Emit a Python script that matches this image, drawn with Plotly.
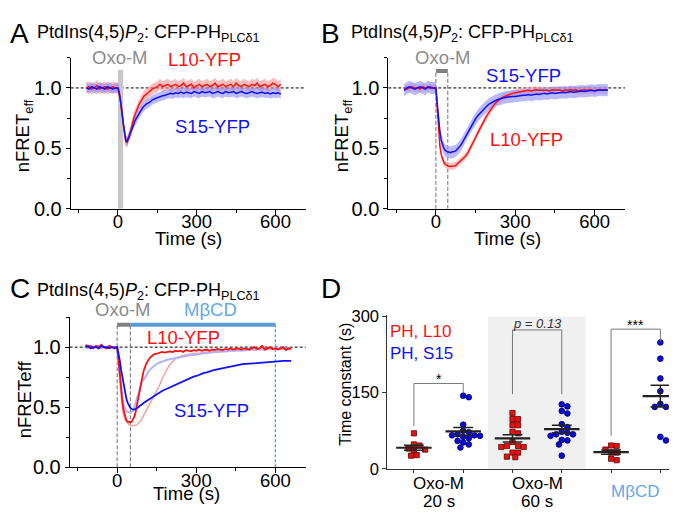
import numpy as np
import plotly.graph_objects as go

FONT = "Arial, Liberation Sans, sans-serif"
RED = "#ff1010"
BLUE = "#1010ff"
GRAY_TXT = "#8c8c8c"
MBCD_BAR = "#5b9bd5"
MBCD_TXT = "#62a8ea"

# ---------------- Panel A (Oxo-M 20 s) ----------------
t_A = list(range(-120, 0, 10)) + list(range(0, 100, 5)) + list(range(100, 630, 10))
A_L10 = [1.00, 1.01, 0.99, 1.00, 1.02, 0.99, 1.00, 1.01, 0.99, 1.00, 1.01, 1.00,
         1.00, 0.95, 0.89, 0.79, 0.70, 0.61, 0.555, 0.55, 0.58, 0.62, 0.66, 0.71, 0.75, 0.78, 0.81, 0.84, 0.86, 0.88, 0.90, 0.92,
         0.935, 0.95, 0.97, 0.99, 1.00, 1.01, 1.03, 1.01, 1.02, 1.03,
         1.01, 1.02, 1.03, 1.01, 1.02, 1.04, 1.01, 1.02, 1.03, 1.00,
         1.02, 1.03, 1.01, 1.02, 1.03, 1.01, 1.02, 1.04, 1.01, 1.02,
         1.03, 1.01, 1.02, 1.03, 1.01, 1.04, 1.02, 1.01, 1.03, 1.02,
         1.01, 1.03, 1.02, 1.04, 1.01, 1.02, 1.03, 1.01, 1.02, 1.04,
         1.03, 1.01, 1.03]
A_S15 = [1.00, 0.99, 1.01, 1.00, 0.99, 1.01, 1.00, 0.99, 1.01, 1.00, 0.99, 1.00,
         1.00, 0.96, 0.90, 0.81, 0.71, 0.62, 0.565, 0.56, 0.58, 0.61, 0.64, 0.68, 0.70, 0.73, 0.75, 0.77, 0.79, 0.81, 0.82, 0.84,
         0.85, 0.87, 0.88, 0.90, 0.91, 0.92, 0.93, 0.935, 0.94, 0.95,
         0.955, 0.95, 0.96, 0.955, 0.965, 0.955, 0.965, 0.96, 0.955, 0.97,
         0.96, 0.955, 0.97, 0.96, 0.965, 0.97, 0.955, 0.96, 0.97, 0.96,
         0.955, 0.97, 0.96, 0.965, 0.97, 0.955, 0.96, 0.97, 0.96, 0.955,
         0.96, 0.97, 0.96, 0.955, 0.96, 0.965, 0.955, 0.96, 0.95, 0.96,
         0.955, 0.96, 0.95]
A_L10_sem = 0.045
A_S15_sem = 0.04

# ---------------- Panel B (Oxo-M 45 s) ----------------
t_B = list(range(-120, 0, 10)) + list(range(0, 100, 5)) + list(range(100, 660, 10))
B_L10 = [1.00, 0.99, 1.00, 1.01, 1.00, 1.00, 0.99, 1.01, 1.00, 1.00, 1.01, 1.00,
         1.00, 0.82, 0.64, 0.52, 0.45, 0.41, 0.385, 0.37, 0.36, 0.355, 0.35, 0.35, 0.35, 0.352, 0.355, 0.36, 0.37, 0.375, 0.385, 0.395,
         0.41, 0.43, 0.46, 0.50, 0.54, 0.59, 0.635, 0.68, 0.72, 0.76,
         0.795, 0.83, 0.86, 0.885, 0.905, 0.92, 0.93, 0.94, 0.95, 0.955,
         0.96, 0.965, 0.97, 0.97, 0.975, 0.98, 0.975, 0.98, 0.985, 0.98,
         0.98, 0.985, 0.98, 0.975, 0.985, 0.98, 0.985, 0.98, 0.975, 0.985,
         0.98, 0.985, 0.98, 0.985, 0.975, 0.98, 0.985, 0.98, 0.985, 0.98,
         0.975, 0.985, 0.98, 0.985, 0.98, 0.985]
B_S15 = [0.98, 1.00, 1.01, 1.00, 0.99, 1.00, 1.01, 1.00, 0.99, 1.01, 1.00, 1.00,
         1.00, 0.87, 0.74, 0.64, 0.57, 0.53, 0.50, 0.485, 0.475, 0.47, 0.47, 0.465, 0.47, 0.47, 0.475, 0.48, 0.49, 0.50, 0.515, 0.53,
         0.55, 0.59, 0.635, 0.675, 0.715, 0.745, 0.775, 0.80, 0.825, 0.845,
         0.865, 0.88, 0.89, 0.90, 0.91, 0.915, 0.92, 0.925, 0.925, 0.93,
         0.93, 0.935, 0.935, 0.94, 0.94, 0.945, 0.94, 0.945, 0.95, 0.945,
         0.95, 0.955, 0.95, 0.955, 0.96, 0.955, 0.96, 0.96, 0.965, 0.96,
         0.965, 0.97, 0.965, 0.97, 0.97, 0.975, 0.97, 0.975, 0.975, 0.98,
         0.975, 0.98, 0.985, 0.98, 0.985, 0.98]
B_L10_sem = 0.03
B_S15_sem = 0.05

# ---------------- Panel C (Oxo-M + MbCD) ----------------
t_C = list(range(-120, 0, 10)) + list(range(0, 100, 5)) + list(range(100, 670, 10))
C_L10 = [1.02, 1.00, 1.01, 0.99, 1.01, 1.00, 1.02, 1.00, 0.99, 1.01, 1.00, 1.00,
         1.00, 0.90, 0.77, 0.64, 0.54, 0.47, 0.42, 0.39, 0.38, 0.375, 0.375, 0.38, 0.40, 0.42, 0.46, 0.51, 0.57, 0.63, 0.69, 0.75,
         0.80, 0.86, 0.90, 0.925, 0.94, 0.945, 0.95, 0.96, 0.955, 0.96,
         0.965, 0.96, 0.97, 0.965, 0.97, 0.96, 0.975, 0.97, 0.965, 0.975,
         0.97, 0.98, 0.97, 0.975, 0.98, 0.97, 0.98, 0.975, 0.985, 0.98,
         0.975, 0.985, 0.98, 0.99, 0.98, 0.985, 0.99, 0.98, 0.99, 0.985,
         0.98, 0.99, 1.00, 0.985, 0.99, 1.01, 0.98, 0.99, 1.00, 0.985,
         0.99, 0.98, 0.99, 1.00, 0.975, 0.99, 0.985]
C_S15 = [1.00, 1.01, 0.99, 1.00, 1.00, 0.99, 1.01, 1.00, 1.00, 0.99, 1.00, 0.99,
         1.00, 0.95, 0.89, 0.81, 0.74, 0.67, 0.61, 0.57, 0.535, 0.51, 0.495, 0.485, 0.48, 0.48, 0.485, 0.49, 0.50, 0.51, 0.515, 0.525,
         0.535, 0.55, 0.565, 0.58, 0.595, 0.61, 0.62, 0.635, 0.645, 0.655,
         0.665, 0.675, 0.69, 0.70, 0.71, 0.72, 0.73, 0.74, 0.745, 0.755,
         0.76, 0.77, 0.775, 0.785, 0.79, 0.80, 0.805, 0.81, 0.815, 0.82,
         0.825, 0.83, 0.835, 0.84, 0.845, 0.85, 0.85, 0.855, 0.86, 0.86,
         0.862, 0.865, 0.868, 0.87, 0.872, 0.875, 0.876, 0.878, 0.88, 0.88,
         0.882, 0.883, 0.884, 0.885, 0.885, 0.886, 0.886]
C_L10_ctrl = [1.00, 1.00, 0.99, 1.00, 1.00, 1.01, 1.00, 1.00, 0.99, 1.00, 1.00, 1.00,
              1.00, 0.85, 0.70, 0.57, 0.48, 0.43, 0.40, 0.38, 0.365, 0.355, 0.35, 0.345, 0.345, 0.345, 0.35, 0.355, 0.365, 0.375, 0.39, 0.41,
              0.43, 0.47, 0.51, 0.55, 0.59, 0.635, 0.68, 0.735, 0.78, 0.82,
              0.855, 0.88, 0.90, 0.915, 0.925, 0.93, 0.935, 0.94, 0.945, 0.945,
              0.95, 0.95, 0.955, 0.955, 0.96, 0.96, 0.96, 0.965, 0.965, 0.965,
              0.97, 0.965, 0.97, 0.97, 0.975, 0.97, 0.975, 0.975, 0.97, 0.975,
              0.975, 0.98, 0.975, 0.98, 0.98, 0.975, 0.98, 0.98, 0.985, 0.98,
              0.98, 0.985, 0.98, 0.985, 0.98, 0.985, 0.98]
C_S15_ctrl = [1.00, 0.99, 1.00, 1.00, 1.01, 1.00, 0.99, 1.00, 1.00, 1.01, 1.00, 1.00,
              1.00, 0.88, 0.76, 0.65, 0.57, 0.52, 0.49, 0.47, 0.46, 0.455, 0.455, 0.46, 0.47, 0.50, 0.54, 0.58, 0.62, 0.655, 0.685, 0.71,
              0.73, 0.765, 0.80, 0.825, 0.845, 0.86, 0.87, 0.88, 0.885, 0.895,
              0.90, 0.905, 0.91, 0.915, 0.92, 0.925, 0.93, 0.93, 0.935, 0.935,
              0.94, 0.945, 0.945, 0.95, 0.95, 0.955, 0.955, 0.96, 0.96, 0.96,
              0.965, 0.965, 0.965, 0.97, 0.97, 0.97, 0.975, 0.975, 0.975, 0.975,
              0.98, 0.98, 0.98, 0.98, 0.98, 0.985, 0.985, 0.985, 0.985, 0.985,
              0.99, 0.99, 0.985, 0.99, 0.99, 0.99, 0.99]

# ---------------- Panel D (time constants, s) ----------------
tau_L10_20s = [70, 46, 48, 38, 37, 40, 26, 27]
tau_S15_20s = [144, 141, 87, 75, 72, 68, 66, 66, 65, 63, 60, 55, 52, 48, 42]
tau_L10_60s = [110, 98, 98, 86, 86, 73, 70, 53, 45, 43, 43, 45, 32, 32, 23, 24]
tau_S15_60s = [127, 123, 114, 109, 88, 82, 73, 68, 65, 68, 71, 56, 57, 48, 26]
tau_L10_MbCD = [45, 46, 38, 32, 32, 17, 20]
tau_S15_MbCD = [249, 217, 178, 153, 128, 122, 122, 56, 63]
group_line1 = ["Oxo-M", "Oxo-M", "MβCD"]
group_line2 = ["20 s", "60 s", ""]

W, H = 677, 512


def px(x):
    return x / W


def py(y):
    return 1 - y / H


fig = go.Figure()


def band(t, y, sem, color, xa, ya):
    y = np.array(y)
    fig.add_trace(go.Scatter(x=list(t) + list(t)[::-1],
                             y=list(y + sem) + list(y - sem)[::-1],
                             fill="toself", fillcolor=color, line=dict(width=0),
                             mode="lines", hoverinfo="skip", xaxis=xa, yaxis=ya))


def line(t, y, color, xa, ya, w=1.5):
    fig.add_trace(go.Scatter(x=t, y=y, mode="lines", line=dict(color=color, width=w),
                             xaxis=xa, yaxis=ya))


# Panel A
band(t_A, A_L10, A_L10_sem, "rgba(245,140,140,0.55)", "x", "y")
band(t_A, A_S15, A_S15_sem, "rgba(130,130,250,0.55)", "x", "y")
line(t_A, A_L10, RED, "x", "y")
line(t_A, A_S15, BLUE, "x", "y")
# Panel B
band(t_B, B_L10, B_L10_sem, "rgba(245,160,160,0.6)", "x2", "y2")
band(t_B, B_S15, B_S15_sem, "rgba(140,140,250,0.6)", "x2", "y2")
line(t_B, B_L10, RED, "x2", "y2")
line(t_B, B_S15, BLUE, "x2", "y2")
# Panel C
line(t_C, C_L10_ctrl, "rgba(245,150,150,0.9)", "x3", "y3", 1.5)
line(t_C, C_S15_ctrl, "rgba(175,175,250,0.95)", "x3", "y3", 2)
line(t_C, C_L10, RED, "x3", "y3", 1.8)
line(t_C, C_S15, BLUE, "x3", "y3", 1.8)

# Panel D scatter
XU, YU, DIAM = 49.3, 158.3 / 300.0, 5.6


def swarm(vals):
    vals = np.array(vals, dtype=float)
    order = np.argsort(-vals)
    placed = []
    offs = np.zeros(len(vals))
    for i in order:
        yy = vals[i] * YU
        c = 0.0
        for k in range(80):
            c = ((k + 1) // 2) * (DIAM / 2) * (1 if k % 2 else -1)
            if all((c - a) ** 2 + (yy - b) ** 2 >= DIAM * DIAM * 0.95 for a, b in placed):
                break
        placed.append((c, yy))
        offs[i] = c / XU
    return offs


groups = [(tau_L10_20s, "L10"), (tau_S15_20s, "S15"), (tau_L10_60s, "L10"),
          (tau_S15_60s, "S15"), (tau_L10_MbCD, "L10"), (tau_S15_MbCD, "S15")]
mx, my = [], []
for gi, (vals, kind) in enumerate(groups):
    pos = gi + 1
    xs = pos + swarm(vals)
    if kind == "L10":
        mk = dict(symbol="square", size=5.2, color="#e81010", line=dict(color="#600000", width=0.8))
    else:
        mk = dict(symbol="circle", size=5.7, color="#0a0ae0", line=dict(color="#00005a", width=0.8))
    fig.add_trace(go.Scatter(x=xs, y=vals, mode="markers", marker=mk, xaxis="x4", yaxis="y4"))
    m = float(np.mean(vals))
    s = float(np.std(vals, ddof=1) / np.sqrt(len(vals)))
    mx += [pos - 0.36, pos + 0.36, None]
    my += [m, m, None]
    fig.add_trace(go.Scatter(x=[pos - 0.2, pos + 0.2, None, pos - 0.2, pos + 0.2, None, pos, pos],
                             y=[m + s, m + s, None, m - s, m - s, None, m - s, m + s],
                             mode="lines", line=dict(color="#222222", width=1.5),
                             xaxis="x4", yaxis="y4"))
fig.add_trace(go.Scatter(x=mx, y=my, mode="lines", line=dict(color="#222222", width=2.2),
                         xaxis="x4", yaxis="y4"))

# ---------------- axes ----------------
xtick_font = dict(family=FONT, size=18.5, color="black")
ytick_font = dict(family=FONT, size=20, color="black")


def time_x(dom, anchor):
    return dict(domain=dom, anchor=anchor, range=[-180, 715], tickvals=[0, 300, 600],
                ticks="outside", ticklen=5, tickwidth=1, tickcolor="black",
                showline=True, linecolor="black", linewidth=1, showgrid=False, zeroline=False,
                tickfont=xtick_font, ticklabelstandoff=-9,
                minor=dict(tickvals=[-150, 150, 450], ticks="outside", ticklen=3, tickcolor="black", showgrid=False))


def time_y(dom, anchor):
    return dict(domain=dom, anchor=anchor, range=[0, 1.25], tickvals=[0, 0.5, 1.0], tickformat=".1f",
                ticks="outside", ticklen=4, tickwidth=1, tickcolor="black",
                showline=True, linecolor="black", linewidth=1, showgrid=False, zeroline=False,
                tickfont=ytick_font,
                minor=dict(tickvals=[0.25, 0.75, 1.25], ticks="outside", ticklen=3, tickcolor="black", showgrid=False))


domA_x = [px(62.7), px(297.7)]
domA_y = [py(200.3), py(43.3)]
domB_x = [px(380.3), px(617)]
domC_x = [px(61.7), px(297.7)]
domC_y = [py(468.7), py(312.7)]
domD_x = [px(379.3), 1.0]
domD_y = [py(470.3), py(311.0)]

fig.update_layout(
    width=W, height=H, margin=dict(l=0, r=0, t=0, b=0),
    paper_bgcolor="white", plot_bgcolor="white", showlegend=False,
    font=dict(family=FONT, color="black"),
    xaxis=time_x(domA_x, "y"), yaxis=time_y(domA_y, "x"),
    xaxis2=time_x(domB_x, "y2"), yaxis2=time_y(domA_y, "x2"),
    xaxis3=time_x(domC_x, "y3"), yaxis3=time_y(domC_y, "x3"),
    xaxis4=dict(domain=domD_x, anchor="y4", range=[0.46, 6.5], tickvals=[1, 2, 3, 4, 5, 6],
                showticklabels=False, ticks="outside", ticklen=3, tickcolor="#333333",
                showline=True, linecolor="#333333", linewidth=1, showgrid=False, zeroline=False),
    yaxis4=dict(domain=domD_y, anchor="x4", range=[0, 302], tickvals=[0, 150, 300],
                ticks="outside", ticklen=4, tickcolor="#333333",
                showline=True, linecolor="#333333", linewidth=1, showgrid=False, zeroline=False,
                tickfont=dict(family=FONT, size=16.5, color="black")),
)

# ---------------- shapes ----------------
shapes = []
# Oxo-M application bar (A)
shapes.append(dict(type="rect", xref="x", yref="y", x0=0, x1=20, y0=0, y1=1.15,
                   fillcolor="#c8c8c8", line=dict(width=0), layer="below"))
# 1.0 baselines
for xr, yr in [("x", "y"), ("x2", "y2"), ("x3", "y3")]:
    shapes.append(dict(type="line", xref=xr + " domain", yref=yr, x0=0, x1=1, y0=1.0, y1=1.0,
                       line=dict(color="black", width=1, dash="3px,2px"), layer="below"))
# B: Oxo-M bar and dashed lines
shapes.append(dict(type="line", xref="x2", yref="y2", x0=0, x1=45, y0=1.14, y1=1.14,
                   line=dict(color="#808080", width=4)))
for xv in [0, 45]:
    shapes.append(dict(type="line", xref="x2", yref="y2", x0=xv, x1=xv, y0=0, y1=1.14,
                       line=dict(color="#707070", width=1, dash="4px,2px"), layer="below"))
# C: Oxo-M bar, MbCD bar, dashed lines
shapes.append(dict(type="line", xref="x3", yref="y3", x0=0, x1=50, y0=1.186, y1=1.186,
                   line=dict(color="#808080", width=4)))
shapes.append(dict(type="line", xref="x3", yref="y3", x0=50, x1=600, y0=1.186, y1=1.186,
                   line=dict(color=MBCD_BAR, width=4)))
for xv in [0, 50]:
    shapes.append(dict(type="line", xref="x3", yref="y3", x0=xv, x1=xv, y0=0, y1=1.186,
                       line=dict(color="#707070", width=1, dash="4px,2px"), layer="below"))
shapes.append(dict(type="line", xref="x3", yref="y3", x0=600, x1=600, y0=0, y1=1.186,
                   line=dict(color=MBCD_BAR, width=1.3, dash="3px,2px"), layer="below"))
# D: shaded group and brackets
shapes.append(dict(type="rect", xref="x4", yref="y4", x0=2.5, x1=4.48, y0=0, y1=300,
                   fillcolor="#f0f0f0", line=dict(width=0), layer="below"))
brackets = [(1, 2, 84, 150, 168), (3, 4, 147, 147, 273.5), (5, 6, 65, 251, 275)]
for x0, x1, yl, yr, yt in brackets:
    shapes.append(dict(type="path", xref="x4", yref="y4",
                       path=f"M {x0},{yl} L {x0},{yt} L {x1},{yt} L {x1},{yr}",
                       line=dict(color="#7a7a7a", width=1)))
fig.update_layout(shapes=shapes)

# ---------------- annotations ----------------
anns = []


def ann(text, x, y, xref="paper", yref="paper", size=18.5, color="black", xanchor="center",
        yanchor="middle", angle=0):
    anns.append(dict(text=text, x=x, y=y, xref=xref, yref=yref, showarrow=False,
                     font=dict(family=FONT, size=size, color=color), xanchor=xanchor,
                     yanchor=yanchor, textangle=angle))


title = "PtdIns(4,5)<i>P</i><sub>2</sub>: CFP-PH<sub>PLCδ1</sub>"
ann("A", px(11.5), py(18), size=28)
ann("B", px(322.5), py(18), size=28)
ann("C", px(11.5), py(283), size=28)
ann("D", px(322.5), py(283), size=28)
ann(title, px(27), py(18), xanchor="left", size=18)
ann(title, px(341), py(18), xanchor="left", size=18)
ann(title, px(27), py(286), xanchor="left", size=18)

ann("Time (s)", px(180), py(231))
ann("Time (s)", px(499), py(231))
ann("Time (s)", px(178), py(496))
ann("nFRET<sub>eff</sub>", px(16), py(125), angle=-90)
ann("nFRET<sub>eff</sub>", px(335), py(125), angle=-90)
ann("nFRETeff", px(16), py(398), angle=-90)
ann("Time constant (s)", px(338), py(383), size=16, angle=-90)

# A labels (pixel positions)
ann("Oxo-M", px(112), py(43), color=GRAY_TXT)
ann("L10-YFP", px(196), py(45), color=RED)
ann("S15-YFP", px(204), py(115), color=BLUE)
# B labels
ann("Oxo-M", px(434.7), py(43), color=GRAY_TXT)
ann("S15-YFP", px(515.3), py(61.7), color=BLUE)
ann("L10-YFP", px(518.7), py(128.3), color=RED)
# C labels
ann("Oxo-M", px(115), py(305), color=GRAY_TXT)
ann("MβCD", px(202.3), py(305), color=MBCD_TXT)
ann("L10-YFP", px(175), py(334), color=RED)
ann("S15-YFP", px(203.3), py(410), color=BLUE)

# D labels
ann("PH, L10", px(380), py(327.7), size=17, color=RED, xanchor="left")
ann("PH, S15", px(380), py(350), size=17, color=BLUE, xanchor="left")
ann("*", 1.5, 176, "x4", "y4", size=14)
ann("<i>p = 0.13</i>", 3.5, 287, "x4", "y4", size=13, color="#333333")
ann("***", 5.5, 284, "x4", "y4", size=14)
for gi in range(3):
    cx = 1.5 + 2 * gi
    if group_line2[gi]:
        ann(group_line1[gi], cx, py(486), "x4", "paper", size=17)
        ann(group_line2[gi], cx, py(504), "x4", "paper", size=17)
    else:
        ann(group_line1[gi], cx, py(494), "x4", "paper", size=17, color=MBCD_TXT)

fig.update_layout(annotations=anns)
fig.write_html("out.html")
